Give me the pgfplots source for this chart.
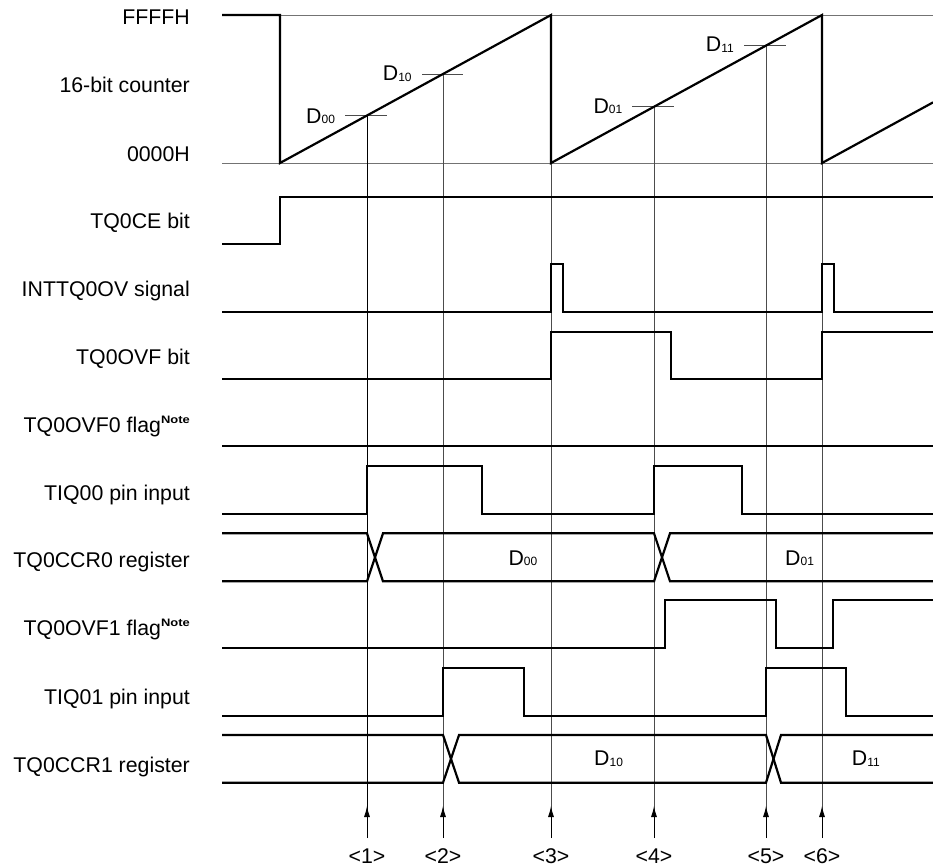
\documentclass[border=0pt]{standalone}
\usepackage{pgfplots}
\pgfplotsset{compat=1.18}
\usepackage{graphicx}
\usepackage{fontspec}
\setmainfont{Liberation Sans}
\usetikzlibrary{arrows.meta}
\newcommand{\sub}[1]{\raisebox{-0.5pt}{\fontsize{12}{12}\selectfont #1}}
\newcommand{\note}{\raisebox{9pt}{\scalebox{1.08}[0.9]{\fontsize{12}{12}\selectfont\bfseries Note}}}
\begin{document}
\begin{tikzpicture}
\fontsize{21.3}{25}\selectfont
\begin{axis}[
  width=933pt, height=867pt, scale only axis,
  xmin=0, xmax=933, ymin=0, ymax=867, y dir=reverse,
  hide axis, clip=false,
  every axis plot/.append style={no markers},
  sig/.style={black, line width=2.2pt, line join=miter},
  thin/.style={black!70, line width=0.9pt},
]
\coordinate (A) at (rel axis cs:0,0);
\coordinate (B) at (rel axis cs:1,1);
% reference lines of counter
\addplot[thin, black!55] coordinates {(280,15) (933,15)};
\addplot[thin, black!55] coordinates {(222,163) (933,163)};
% counter marks
\addplot[thin] coordinates {(345,115.5) (387,115.5)};
\addplot[thin] coordinates {(422,74) (463,74)};
\addplot[thin] coordinates {(632,106.7) (674,106.7)};
\addplot[thin] coordinates {(744,45.6) (786,45.6)};
% vertical guide lines
\addplot[thin, black] coordinates {(367,115.5) (367,838)};
\addplot[thin] coordinates {(443,74) (443,838)};
\addplot[thin] coordinates {(551,163) (551,838)};
\addplot[thin] coordinates {(654,106.7) (654,838)};
\addplot[thin] coordinates {(766,45.6) (766,838)};
\addplot[thin] coordinates {(822,163) (822,838)};
% arrows
\addplot[thin, black, -{Latex[length=11pt,width=6pt]}] coordinates {(367,838) (367,806)};
\addplot[thin, black, -{Latex[length=11pt,width=6pt]}] coordinates {(443,838) (443,806)};
\addplot[thin, black, -{Latex[length=11pt,width=6pt]}] coordinates {(551,838) (551,806)};
\addplot[thin, black, -{Latex[length=11pt,width=6pt]}] coordinates {(654,838) (654,806)};
\addplot[thin, black, -{Latex[length=11pt,width=6pt]}] coordinates {(766,838) (766,806)};
\addplot[thin, black, -{Latex[length=11pt,width=6pt]}] coordinates {(822,838) (822,806)};
% 16-bit counter
\addplot[sig] coordinates {(222,15) (280,15) (280,163) (551,15) (551,163) (822,15) (822,163) (933,102.4)};
% TQ0CE bit
\addplot[sig] coordinates {(222,244.3) (280,244.3) (280,196.7) (933,196.7)};
% INTTQ0OV signal
\addplot[sig] coordinates {(222,312) (551,312) (551,264.3) (562.7,264.3) (562.7,312) (822,312) (822,264.3) (834,264.3) (834,312) (933,312)};
% TQ0OVF bit
\addplot[sig] coordinates {(222,379.3) (551,379.3) (551,331.7) (671.3,331.7) (671.3,379.3) (822,379.3) (822,331.7) (933,331.7)};
% TQ0OVF0 flag
\addplot[sig] coordinates {(222,445.7) (933,445.7)};
% TIQ00 pin input
\addplot[sig] coordinates {(222,514) (367,514) (367,466) (481.7,466) (481.7,514) (654,514) (654,466) (742.3,466) (742.3,514) (933,514)};
% TQ0CCR0 register
\addplot[sig] coordinates {(222,533.3) (367,533.3) (383,581.3) (654,581.3) (670,533.3) (933,533.3)};
\addplot[sig] coordinates {(222,581.3) (367,581.3) (383,533.3) (654,533.3) (670,581.3) (933,581.3)};
% TQ0OVF1 flag
\addplot[sig] coordinates {(222,647.7) (665,647.7) (665,600) (776,600) (776,647.7) (833.3,647.7) (833.3,600) (933,600)};
% TIQ01 pin input
\addplot[sig] coordinates {(222,715.7) (443,715.7) (443,667.7) (524.3,667.7) (524.3,715.7) (766,715.7) (766,667.7) (845.7,667.7) (845.7,715.7) (933,715.7)};
% TQ0CCR1 register
\addplot[sig] coordinates {(222,735) (443,735) (459,782.7) (766,782.7) (781,735) (933,735)};
\addplot[sig] coordinates {(222,782.7) (443,782.7) (459,735) (766,735) (781,782.7) (933,782.7)};
% left labels
\node[anchor=base east, inner sep=0pt] at (axis cs:190,24.3) {FFFFH};
\node[anchor=base east, inner sep=0pt] at (axis cs:190,92.3) {16-bit counter};
\node[anchor=base east, inner sep=0pt] at (axis cs:190,161) {0000H};
\node[anchor=base east, inner sep=0pt] at (axis cs:190,228.3) {TQ0CE bit};
\node[anchor=base east, inner sep=0pt] at (axis cs:190,296.7) {INTTQ0OV signal};
\node[anchor=base east, inner sep=0pt] at (axis cs:190,364.3) {TQ0OVF bit};
\node[anchor=base east, inner sep=0pt] at (axis cs:190,432.3) {TQ0OVF0 flag\note};
\node[anchor=base east, inner sep=0pt] at (axis cs:190,500) {TIQ00 pin input};
\node[anchor=base east, inner sep=0pt] at (axis cs:190,567.3) {TQ0CCR0 register};
\node[anchor=base east, inner sep=0pt] at (axis cs:190,635) {TQ0OVF1 flag\note};
\node[anchor=base east, inner sep=0pt] at (axis cs:190,704.3) {TIQ01 pin input};
\node[anchor=base east, inner sep=0pt] at (axis cs:190,772.7) {TQ0CCR1 register};
% D labels on counter
\node[anchor=base west, inner sep=0pt] at (axis cs:306,123.3) {D\sub{00}};
\node[anchor=base west, inner sep=0pt] at (axis cs:382.7,81) {D\sub{10}};
\node[anchor=base west, inner sep=0pt] at (axis cs:593.3,113.3) {D\sub{01}};
\node[anchor=base west, inner sep=0pt] at (axis cs:705.7,51.7) {D\sub{11}};
% D labels in registers
\node[anchor=base west, inner sep=0pt] at (axis cs:508.3,565) {D\sub{00}};
\node[anchor=base west, inner sep=0pt] at (axis cs:785,565) {D\sub{01}};
\node[anchor=base west, inner sep=0pt] at (axis cs:594,765.7) {D\sub{10}};
\node[anchor=base west, inner sep=0pt] at (axis cs:851.7,765.7) {D\sub{11}};
% timing labels
\node[anchor=base, inner sep=0pt] at (axis cs:367,863) {<1>};
\node[anchor=base, inner sep=0pt] at (axis cs:443,863) {<2>};
\node[anchor=base, inner sep=0pt] at (axis cs:551,863) {<3>};
\node[anchor=base, inner sep=0pt] at (axis cs:654,863) {<4>};
\node[anchor=base, inner sep=0pt] at (axis cs:766,863) {<5>};
\node[anchor=base, inner sep=0pt] at (axis cs:822,863) {<6>};
\end{axis}
\pgfresetboundingbox
\path (A) rectangle (B);
\end{tikzpicture}
\end{document}
